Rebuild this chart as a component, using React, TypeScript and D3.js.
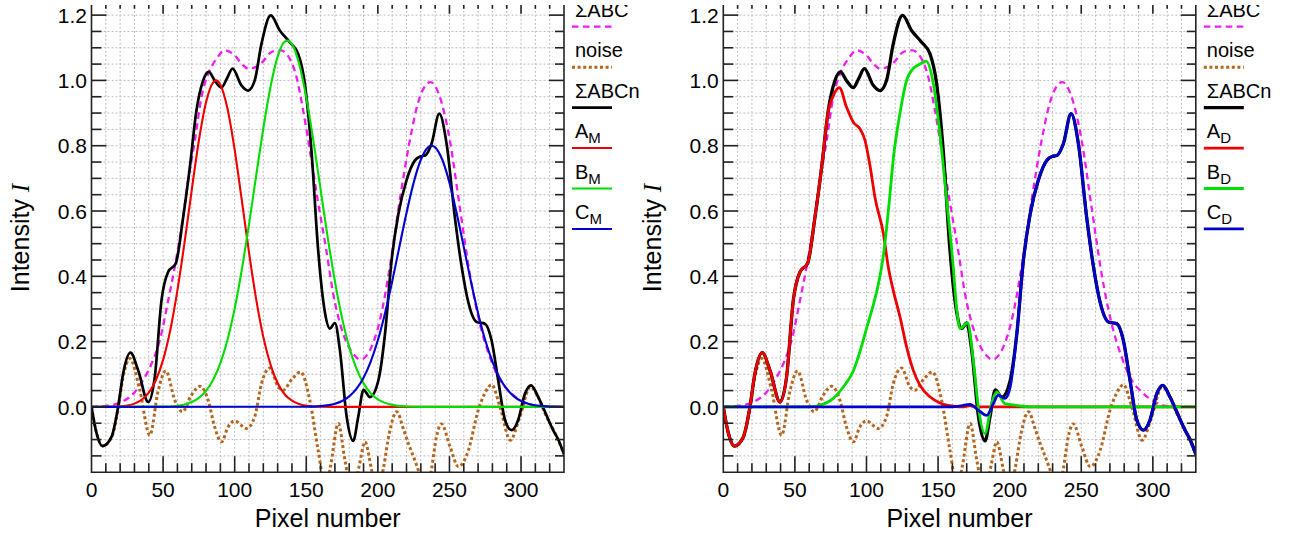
import React from 'react';
import * as d3 from 'd3';

type P = [number, number];

// ---- shared series (same in both panels) ----
const sumABC: P[] = [[0,0],[10,0.003],[15,0.006],[21,0.015],[26,0.028],[30.3,0.046],[36,0.082],[42,0.133],[47.7,0.204],[53.6,0.327],[58.2,0.43],[62.9,0.551],[67.5,0.694],[72.2,0.816],[76.8,0.949],[81.5,1.02],[87.3,1.066],[93,1.092],[100,1.077],[105,1.05],[109.4,1.036],[114,1.04],[118.7,1.053],[125.7,1.087],[132,1.092],[138.5,1.066],[143.2,1.01],[147.8,0.908],[152.5,0.786],[158,0.633],[164,0.48],[168.8,0.347],[175.8,0.224],[182.7,0.163],[187.9,0.145],[194.4,0.173],[201.4,0.265],[208.4,0.43],[215.3,0.633],[222.3,0.816],[229.3,0.949],[236.8,0.995],[243.3,0.949],[250.3,0.816],[257.2,0.612],[264.2,0.408],[271.2,0.255],[278.2,0.153],[285.2,0.082],[292.2,0.046],[301.5,0.015],[308.5,0.003],[315,0],[330,0]];

const noise: P[] = [[0,0],[3.5,-0.08],[7.7,-0.12],[14,-0.093],[18.6,-0.005],[22,0.09],[26.8,0.148],[33.8,0.05],[40.7,-0.087],[46.6,0.05],[51.9,0.11],[58.2,0.02],[63.5,-0.015],[69.8,0.036],[75.7,0.063],[81.5,0.02],[86,-0.061],[90.8,-0.107],[95.4,-0.061],[100,-0.043],[108.2,-0.066],[114,-0.03],[118.7,0.071],[124.5,0.119],[130.4,0.061],[133.8,0.051],[140,0.085],[146,0.107],[152.5,0.02],[158.3,-0.133],[163.5,-0.25],[167,-0.18],[172.4,-0.051],[177,-0.163],[182.5,-0.27],[187,-0.18],[191,-0.107],[195.5,-0.19],[199.5,-0.27],[204,-0.185],[208,-0.08],[213.2,-0.015],[218,-0.07],[221.3,-0.112],[225.5,-0.16],[229.5,-0.21],[233.5,-0.27],[237.5,-0.19],[241,-0.09],[244.4,-0.052],[250.4,-0.122],[256.3,-0.183],[263.2,-0.133],[270.1,-0.01],[274.5,0.04],[279.5,0.068],[285.3,0],[292.5,-0.102],[299.2,-0.03],[306.5,0.062],[312,0.03],[316.7,-0.02],[323.7,-0.08],[330,-0.145]];

const sumABCn: P[] = [[0,0],[3.5,-0.08],[7.7,-0.12],[14,-0.092],[18.6,0],[22,0.1],[27.2,0.166],[32.6,0.112],[39.6,0.015],[44.2,0.092],[48.9,0.327],[53.5,0.413],[58.9,0.44],[64,0.58],[68.7,0.735],[73.3,0.908],[78,1.0],[81.9,1.026],[86,1.0],[90.8,0.978],[94.5,1.005],[98.5,1.036],[104.7,0.985],[109.4,0.969],[114,1.0],[118.7,1.112],[125.2,1.199],[131.5,1.153],[138.5,1.117],[144.3,1.082],[149,0.99],[153.6,0.786],[158.3,0.48],[163,0.29],[166.5,0.24],[170,0.257],[173.5,0.173],[178.2,-0.03],[182.8,-0.104],[186.3,-0.03],[190,0.052],[194.5,0.03],[200.3,0.08],[205,0.224],[209.6,0.449],[214.3,0.59],[220,0.694],[225.9,0.755],[229.5,0.767],[233,0.77],[237.5,0.806],[242.9,0.898],[248,0.806],[253.8,0.58],[258.5,0.43],[263.2,0.32],[269,0.26],[274.8,0.255],[279.4,0.204],[284.1,0.08],[288.8,-0.04],[293.4,-0.071],[298,-0.04],[302.7,0.04],[307,0.066],[312,0.03],[316.7,-0.015],[322.4,-0.071],[326,-0.1],[330,-0.145]];

// ---- left panel: model fits ----
const A_M: P[] = [[0,0],[10,0.0002],[20,0.0017],[25,0.0043],[30,0.0101],[35,0.0218],[40,0.0439],[45,0.0825],[50,0.144],[55,0.235],[60,0.357],[65,0.504],[70,0.664],[75,0.816],[80,0.933],[85,0.994],[87,1.0],[90,0.987],[95,0.913],[100,0.787],[105,0.632],[110,0.473],[115,0.33],[120,0.214],[125,0.13],[130,0.073],[135,0.038],[140,0.019],[145,0.0086],[150,0.0036],[160,0.0005],[170,0],[330,0]];
const B_M: P[] = [[0,0],[50,0.0009],[60,0.0037],[65,0.0075],[70,0.0148],[75,0.0276],[80,0.049],[85,0.083],[90,0.134],[95,0.206],[100,0.301],[105,0.421],[110,0.559],[115,0.708],[120,0.853],[125,0.98],[130,1.073],[135,1.119],[137,1.122],[140,1.111],[145,1.051],[150,0.948],[155,0.814],[160,0.666],[165,0.518],[170,0.385],[175,0.272],[180,0.183],[185,0.118],[190,0.072],[195,0.042],[200,0.023],[205,0.0123],[210,0.0062],[220,0.0014],[230,0.0002],[240,0],[330,0]];
const C_M: P[] = [[0,0],[150,0.0005],[160,0.0024],[170,0.0096],[175,0.018],[180,0.0323],[185,0.0552],[190,0.0896],[195,0.139],[200,0.204],[205,0.287],[210,0.384],[215,0.49],[220,0.594],[225,0.687],[230,0.757],[235,0.795],[237.5,0.8],[240,0.795],[245,0.757],[250,0.687],[255,0.594],[260,0.49],[265,0.384],[270,0.287],[275,0.204],[280,0.139],[285,0.0896],[290,0.0552],[295,0.0323],[300,0.018],[305,0.0096],[315,0.0024],[330,0.0003]];

// ---- right panel: decomposition ----
const A_D: P[] = [[0,0],[3.5,-0.08],[7.7,-0.12],[14,-0.092],[18.6,0],[22,0.1],[27.2,0.166],[32.6,0.112],[39.6,0.015],[44.2,0.092],[48.9,0.327],[53.5,0.413],[58.9,0.44],[64,0.58],[68.7,0.735],[73.3,0.905],[77,0.955],[81,0.978],[86.1,0.918],[90.8,0.872],[95.4,0.852],[99,0.816],[102.4,0.74],[106,0.64],[111.8,0.531],[115.2,0.429],[118.7,0.357],[123.4,0.276],[128,0.184],[132.7,0.112],[137.4,0.066],[144.3,0.031],[151.3,0.012],[160.6,0.002],[168,0],[172,0.004],[176,0],[330,0]];
const B_D: P[] = [[0,0],[60,0],[67.5,0.005],[76.8,0.026],[83.8,0.061],[90.8,0.11],[95.5,0.17],[100,0.24],[104,0.3],[108,0.37],[112,0.47],[115.5,0.61],[119,0.77],[123.4,0.9],[128,1.0],[133,1.038],[137.5,1.05],[141.6,1.059],[146.7,0.99],[151.3,0.837],[156,0.633],[160.6,0.429],[163,0.3],[165.3,0.24],[170.6,0.257],[174.6,0.143],[178.1,0],[182.7,-0.082],[187.4,0.01],[190.9,0.046],[196.7,0.01],[206,0.004],[215,0],[330,0]];
const C_D: P[] = [[0,0],[160,0],[166,0.003],[172.3,0.008],[178.1,-0.01],[183.9,-0.026],[188.6,0.01],[192,0.036],[196.7,0.026],[200.3,0.06],[205,0.224],[209.6,0.449],[214.3,0.59],[220,0.694],[225.9,0.755],[229.5,0.767],[233,0.77],[237.5,0.806],[242.9,0.898],[248,0.806],[253.8,0.58],[258.5,0.43],[263.2,0.32],[269,0.26],[274.8,0.255],[279.4,0.204],[284.1,0.08],[288.8,-0.04],[293.4,-0.071],[298,-0.04],[302.7,0.04],[307,0.066],[312,0.03],[316.7,-0.015],[322.4,-0.071],[326,-0.1],[330,-0.145]];

const X_MAJOR = [0, 50, 100, 150, 200, 250, 300];
const X_MINOR = d3.range(0, 331, 10);
const Y_MAJOR = [0, 0.2, 0.4, 0.6, 0.8, 1.0, 1.2];
const Y_MINOR = d3.range(-0.15, 1.26, 0.05).map(v => Math.round(v * 100) / 100);
const X_DOMAIN: [number, number] = [0, 330];
const Y_DOMAIN: [number, number] = [-0.2, 1.25];

const FONT = '"Liberation Sans", Arial, Helvetica, sans-serif';
const C_MAG = '#f21cf2';
const C_NOISE = '#b5651d';
const C_RED = '#ee0000';
const C_GREEN = '#00dd00';
const C_BLUE = '#0000cc';

type Style = { color: string; width: number; dash?: string };

function Panel({ id, left, right, comps, sub, thick }: { id: string; left: number; right: number; comps: P[][]; sub: string; thick: boolean }) {
  const x = d3.scaleLinear().domain(X_DOMAIN).range([left, right]);
  const y = d3.scaleLinear().domain(Y_DOMAIN).range([472.2, -1.2]);
  const line = d3.line<P>().x(d => x(d[0])).y(d => y(d[1])).curve(d3.curveMonotoneX);
  const cw = thick ? 2.8 : 2.1;
  const styles: Style[] = [
    { color: C_MAG, width: 2.3, dash: '6.5,4.5' },
    { color: C_NOISE, width: 3, dash: '3,2.6' },
    { color: '#000', width: thick ? 3.3 : 2.7 },
    { color: C_RED, width: cw },
    { color: C_GREEN, width: cw },
    { color: C_BLUE, width: cw },
  ];
  const data = [sumABC, noise, sumABCn, ...comps];
  const yb = y(-0.2);
  const yt = y(1.25);
  const tc = '#222';
  const legX1 = right + 8;
  const legX2 = right + 48;
  const labels = ['ΣABC', 'noise', 'ΣABCn', 'A', 'B', 'C'];
  return (
    <g>
      <defs>
        <clipPath id={id}>
          <rect x={left} y={yt} width={right - left} height={yb - yt} />
        </clipPath>
      </defs>
      {/* grid */}
      <g stroke="#bdbdbd" strokeWidth={1} strokeDasharray="2,2">
        {X_MINOR.filter(v => v > 0 && v < 330).map(v => (
          <line key={'gx' + v} x1={x(v)} x2={x(v)} y1={yt} y2={yb} />
        ))}
        {Y_MINOR.filter(v => v > -0.2 && v < 1.25).map(v => (
          <line key={'gy' + v} x1={left} x2={right} y1={y(v)} y2={y(v)} />
        ))}
      </g>
      {/* curves */}
      <g clipPath={`url(#${id})`} fill="none" strokeLinejoin="round">
        {data.map((d, i) => (
          <path key={i} d={line(d) || ''} stroke={styles[i].color} strokeWidth={styles[i].width} strokeDasharray={styles[i].dash} />
        ))}
      </g>
      {/* axes */}
      <g stroke={tc} strokeWidth={1.6}>
        <line x1={left} x2={left} y1={yt} y2={yb + 0.8} />
        <line x1={right} x2={right} y1={yt} y2={yb + 0.8} />
        <line x1={left} x2={right} y1={yb} y2={yb} />
        <line x1={left} x2={right} y1={yt} y2={yt} />
        {X_MINOR.filter(v => v > 0 && v < 330).map(v => {
          const major = X_MAJOR.includes(v);
          return (
            <g key={'tx' + v}>
              <line x1={x(v)} x2={x(v)} y1={yb} y2={yb - (major ? 16 : 9)} />
              <line x1={x(v)} x2={x(v)} y1={yt} y2={yt + (major ? 15 : 10)} />
            </g>
          );
        })}
        {Y_MINOR.filter(v => v > -0.2 && v < 1.25).map(v => {
          const major = Y_MAJOR.some(m => Math.abs(m - v) < 1e-6);
          return (
            <g key={'ty' + v}>
              <line x1={left} x2={left + (major ? 15 : 10)} y1={y(v)} y2={y(v)} />
              <line x1={right} x2={right - (major ? 15 : 9)} y1={y(v)} y2={y(v)} />
            </g>
          );
        })}
      </g>
      {/* tick labels */}
      <g fontFamily={FONT} fontSize={21} fill="#000">
        {X_MAJOR.map(v => (
          <text key={'lx' + v} x={x(v)} y={497} textAnchor="middle">{String(v)}</text>
        ))}
        {Y_MAJOR.map(v => (
          <text key={'ly' + v} x={left - 4.5} y={y(v) + 7.6} textAnchor="end">{v.toFixed(1)}</text>
        ))}
      </g>
      {/* axis titles */}
      <text x={(left + right) / 2} y={527} textAnchor="middle" fontFamily={FONT} fontSize={25}>Pixel number</text>
      <text transform={`translate(${left - 62.5},238) rotate(-90)`} textAnchor="middle" fontFamily={FONT} fontSize={25}>
        Intensity <tspan fontFamily='"Liberation Serif", "Times New Roman", serif' fontStyle="italic">I</tspan>
      </text>
      {/* legend */}
      <g fontFamily={FONT} fontSize={20} fill="#000">
        {labels.map((lab, i) => {
          const ly = 26.7 + i * 40.45;
          const st = styles[i];
          return (
            <g key={'lg' + i}>
              <line x1={legX1} x2={legX2} y1={ly} y2={ly} stroke={st.color} strokeWidth={st.width} strokeDasharray={st.dash} />
              <text x={legX1 + 3} y={ly - 10}>
                {lab}
                {i >= 3 ? <tspan fontSize={15} dy={5}>{sub}</tspan> : null}
              </text>
            </g>
          );
        })}
      </g>
    </g>
  );
}

export default function App() {
  return (
    <svg width={1295} height={537} style={{ position: 'absolute', left: 0, top: 0, background: '#fff' }}>
      <rect x={0} y={0} width={1295} height={537} fill="#fff" />
      <Panel id="clipL" left={91.5} right={564} comps={[A_M, B_M, C_M]} sub="M" thick={false} />
      <Panel id="clipR" left={723.3} right={1195.8} comps={[A_D, B_D, C_D]} sub="D" thick={true} />
      <rect x={0} y={0} width={1295} height={5} fill="#fff" />
    </svg>
  );
}
